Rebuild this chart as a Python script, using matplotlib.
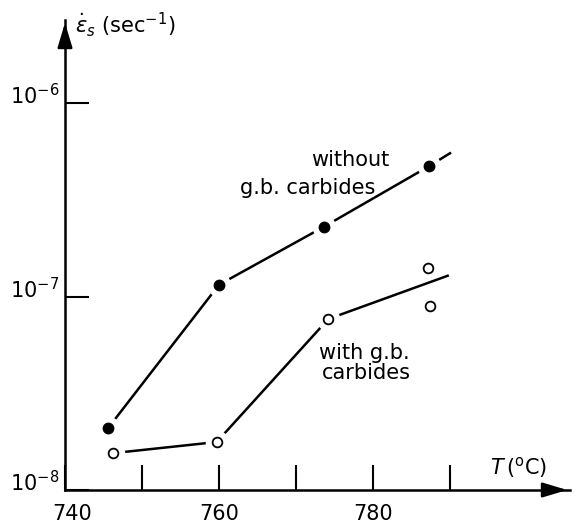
import matplotlib
matplotlib.use('Agg')
import matplotlib.pyplot as plt
import matplotlib.transforms as mtransforms

plt.rcParams['font.family'] = 'DejaVu Sans'
plt.rcParams['mathtext.fontset'] = 'dejavusans'

# strain rate vs temperature
T_without = [745.6, 760.0, 773.6, 787.3]
rate_without = [2.09e-8, 1.15e-7, 2.29e-7, 4.72e-7]
T_without_ext = [787.3, 790.0]
rate_without_ext = [4.72e-7, 5.5e-7]

T_with = [746.2, 759.7, 774.2, 787.1, 787.4]
rate_with = [1.55e-8, 1.77e-8, 7.65e-8, 1.40e-7, 8.93e-8]
# drawn line: through first three points, then a fit between the two last ones
T_with_line = [746.2, 759.7, 774.2, 789.7]
rate_with_line = [1.55e-8, 1.77e-8, 7.65e-8, 1.28e-7]

xticks = [740, 750, 760, 770, 780, 790]
xticklabels = ['740', '', '760', '', '780', '']
yticks = [1e-8, 1e-7, 1e-6]
yticklabels = [r'$10^{-8}$', r'$10^{-7}$', r'$10^{-6}$']

fig = plt.figure(figsize=(5.76, 5.28), dpi=100)
ax = fig.add_axes([65/576, 1 - 490/528, 505/576, 470/528])

lw = 1.8
# lines (gaps around markers made by white halos)
ax.plot(T_without, rate_without, color='black', lw=lw, zorder=2)
ax.plot(T_without_ext, rate_without_ext, color='black', lw=lw, zorder=2)
ax.plot(T_with_line, rate_with_line, color='black', lw=lw, zorder=2)

ax.plot(T_without, rate_without, ls='none', marker='o', ms=17, mfc='white', mec='none', zorder=3)
ax.plot(T_with[:3], rate_with[:3], ls='none', marker='o', ms=17, mfc='white', mec='none', zorder=3)

ax.plot(T_without, rate_without, ls='none', marker='o', ms=7.5, mfc='black', mec='black', zorder=4)
ax.plot(T_with, rate_with, ls='none', marker='o', ms=7, mfc='white', mec='black', mew=1.3, zorder=4)

ax.set_yscale('log')
ax.set_xlim(740, 740 + 505/7.7)
ax.set_ylim(1e-8, 10**(-8 + 470/193.5))

ax.set_xticks(xticks)
ax.set_xticklabels(xticklabels, fontsize=15)
ax.set_yticks(yticks)
ax.set_yticklabels(yticklabels, fontsize=15)
ax.minorticks_off()
ax.tick_params(axis='x', direction='in', length=18, width=1.5, pad=10)
ax.tick_params(axis='y', direction='in', length=17, width=1.5, pad=4)
offset = mtransforms.ScaledTranslation(0, 9/100, fig.dpi_scale_trans)
for lab in ax.get_yticklabels():
    lab.set_transform(lab.get_transform() + offset)
first = ax.get_xticklabels()[0]
first.set_transform(first.get_transform() + mtransforms.ScaledTranslation(7/100, 0, fig.dpi_scale_trans))

for s in ['top', 'right']:
    ax.spines[s].set_visible(False)
for s in ['left', 'bottom']:
    ax.spines[s].set_linewidth(1.8)

# arrow heads
ax.annotate('', xy=(1.0, 0), xytext=(0.95, 0), xycoords='axes fraction',
            arrowprops=dict(arrowstyle='-|>,head_length=1.5,head_width=0.45', color='black', lw=1.8),
            annotation_clip=False)
ax.annotate('', xy=(0, 1.0), xytext=(0, 0.95), xycoords='axes fraction',
            arrowprops=dict(arrowstyle='-|>,head_length=1.5,head_width=0.45', color='black', lw=1.8),
            annotation_clip=False)

# axis labels
fig.text(75/576, 1 - 25/528, r'$\dot{\varepsilon}_s$ (sec$^{-1}$)', fontsize=15, ha='left', va='center')
fig.text(490/576, 1 - 467/528, r'$T\,(^{\mathrm{o}}\mathrm{C})$', fontsize=15, ha='left', va='center')

# annotations
fig.text(350/576, 1 - 160/528, 'without', fontsize=15, ha='center', va='center')
fig.text(308/576, 1 - 188/528, 'g.b. carbides', fontsize=15, ha='center', va='center')
fig.text(364/576, 1 - 353/528, 'with g.b.', fontsize=15, ha='center', va='center')
fig.text(366/576, 1 - 373/528, 'carbides', fontsize=15, ha='center', va='center')

plt.savefig('out.png', dpi=100)
